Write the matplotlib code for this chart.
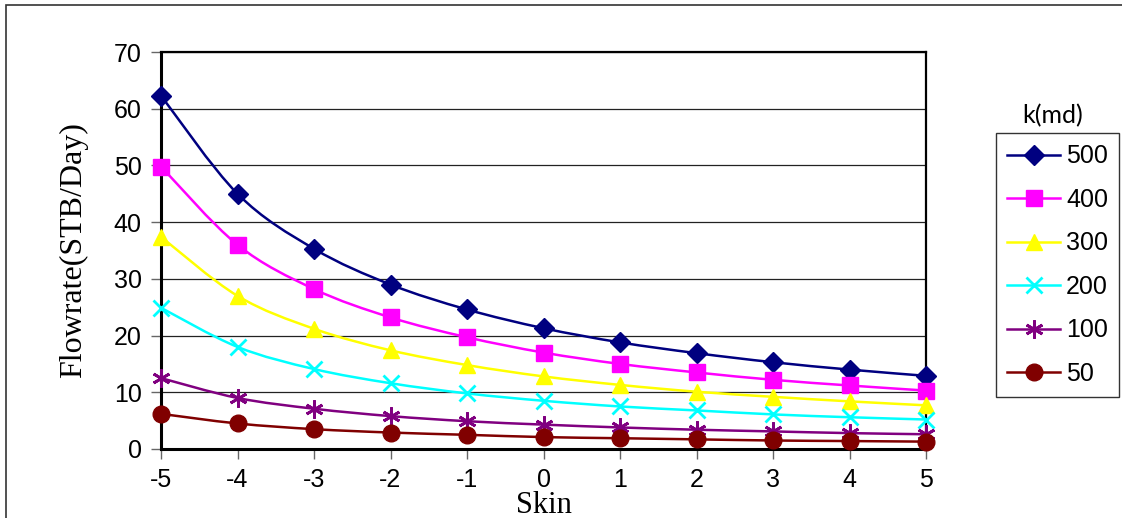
import matplotlib
matplotlib.use("Agg")
import matplotlib.pyplot as plt
import numpy as np
from matplotlib.path import Path
from matplotlib.patches import PathPatch, Rectangle
from matplotlib.lines import Line2D

# ---- data ----
skin = [-5, -4, -3, -2, -1, 0, 1, 2, 3, 4, 5]
k500 = [62.3, 45.0, 35.3, 29.0, 24.6, 21.3, 18.8, 16.9, 15.3, 14.0, 12.9]
k400 = [49.8, 36.0, 28.2, 23.2, 19.7, 17.0, 15.0, 13.5, 12.2, 11.2, 10.3]
k300 = [37.4, 27.0, 21.2, 17.4, 14.8, 12.8, 11.3, 10.1, 9.2, 8.4, 7.7]
k200 = [24.9, 18.0, 14.1, 11.6, 9.8, 8.5, 7.5, 6.8, 6.1, 5.6, 5.2]
k100 = [12.5, 9.0, 7.1, 5.8, 4.9, 4.3, 3.8, 3.4, 3.1, 2.8, 2.6]
k50 = [6.2, 4.5, 3.5, 2.9, 2.5, 2.1, 1.9, 1.7, 1.5, 1.4, 1.3]

labels = ['500', '400', '300', '200', '100', '50']
series = [k500, k400, k300, k200, k100, k50]
colors = ['#000080', '#FF00FF', '#FFFF00', '#00FFFF', '#800080', '#800000']
markers = ['D', 's', '^', 'x', (6, 2, 0), 'o']
msizes = [10, 11, 12, 12, 13, 12]


def smooth_path(x, y):
    """Excel style smoothed line: Catmull-Rom as cubic bezier segments"""
    x = np.asarray(x, float)
    y = np.asarray(y, float)
    verts = [(x[0], y[0])]
    codes = [Path.MOVETO]
    n = len(x)
    for i in range(n - 1):
        p0 = (x[max(i - 1, 0)], y[max(i - 1, 0)])
        p1 = (x[i], y[i])
        p2 = (x[i + 1], y[i + 1])
        p3 = (x[min(i + 2, n - 1)], y[min(i + 2, n - 1)])
        c1 = (p1[0] + (p2[0] - p0[0]) / 6, p1[1] + (p2[1] - p0[1]) / 6)
        c2 = (p2[0] - (p3[0] - p1[0]) / 6, p2[1] - (p3[1] - p1[1]) / 6)
        verts += [c1, c2, p2]
        codes += [Path.CURVE4] * 3
    return Path(verts, codes)


W, H = 1122, 518
fig = plt.figure(figsize=(W / 100, H / 100), dpi=100)
fig.patch.set_facecolor('white')

# outer chart frame
fig.patches.append(Rectangle((6 / W, -0.05), 1.1, 1 - 5 / H + 0.05, transform=fig.transFigure,
                             fill=False, edgecolor='#333333', lw=1.2))

ax = fig.add_axes([161 / W, 1 - 449 / H, (926 - 161) / W, (449 - 52) / H])
ax.set_xlim(-5, 5)
ax.set_ylim(0, 70)
ax.set_xticks(skin)
ax.set_xticklabels([str(s) for s in skin])
ax.set_yticks(np.arange(0, 71, 10))
ax.yaxis.grid(True, color='#222222', lw=0.9)
ax.set_axisbelow(True)

for sp in ax.spines.values():
    sp.set_color('black')
ax.spines['left'].set_linewidth(2.2)
ax.spines['bottom'].set_linewidth(2.2)
ax.spines['top'].set_linewidth(1.6)
ax.spines['right'].set_linewidth(1.6)

ax.tick_params(axis='both', direction='out', length=7, width=1, color='#666666',
               labelsize=18, pad=7)
for t in ax.get_xticklabels() + ax.get_yticklabels():
    t.set_fontfamily('Liberation Sans')

for ys, c, m, ms in zip(series, colors, markers, msizes):
    ax.add_patch(PathPatch(smooth_path(skin, ys), facecolor='none', edgecolor=c, lw=1.8,
                           zorder=3, clip_on=False))
    ax.plot(skin, ys, linestyle='none', marker=m, color=c, markersize=ms,
            markeredgewidth=2 if m in ('x', (6, 2, 0)) else 1, zorder=4, clip_on=False)

ax.set_ylabel('Flowrate(STB/Day)', fontfamily='Liberation Serif', fontsize=23)
ax.yaxis.set_label_coords(-0.095, 0.5)
ax.set_xlabel('Skin', fontfamily='Liberation Serif', fontsize=22)
ax.xaxis.set_label_coords(0.5, -0.105)

# legend
handles = [Line2D([], [], color=c, lw=1.8, marker=m, markersize=ms,
                  markeredgewidth=2 if m in ('x', (6, 2, 0)) else 1)
           for c, m, ms in zip(colors, markers, msizes)]
leg = fig.legend(handles, labels, loc='upper left', bbox_to_anchor=(996 / W, 1 - 133 / H),
                 frameon=True, fancybox=False, edgecolor='black', handlelength=2.1,
                 handletextpad=0.25, labelspacing=0.78, borderpad=0.45, borderaxespad=0,
                 prop={'family': 'Liberation Sans', 'size': 18})
leg.get_frame().set_linewidth(1.0)
fig.text(1053 / W, 1 - 116 / H, 'k(md)', ha='center', va='center', fontfamily='Lato', fontsize=18)

fig.savefig('out.png', dpi=100)
